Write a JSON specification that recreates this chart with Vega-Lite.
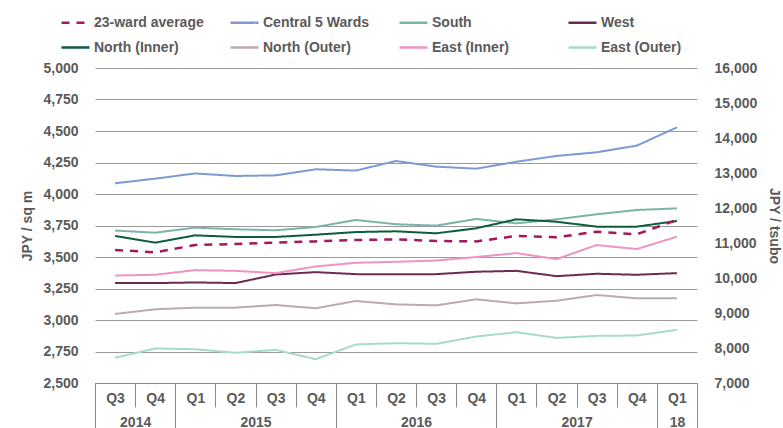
{
  "$schema": "https://vega.github.io/schema/vega-lite/v6.json",
  "width": 602,
  "height": 315,
  "autosize": "none",
  "padding": {"left": 95, "top": 68, "right": 86, "bottom": 45},
  "background": "white",
  "config": {
    "view": {"stroke": null},
    "font": "Liberation Sans",
    "axis": {
      "labelFont": "Liberation Sans",
      "labelFontSize": 14,
      "labelFontWeight": "bold",
      "labelColor": "#5a5a5a",
      "titleFont": "Liberation Sans",
      "titleFontSize": 14,
      "titleFontWeight": "bold",
      "titleColor": "#5a5a5a",
      "labelOverlap": false,
      "labelFlush": false,
      "labelBound": false
    },
    "legend": {
      "labelFont": "Liberation Sans",
      "labelFontSize": 14,
      "labelFontWeight": "bold",
      "labelColor": "#5a5a5a"
    }
  },
  "data": {
    "values": [
      {"period": "2014 Q3", "n": 1, "23-ward average": 3556, "Central 5 Wards": 4085, "South": 3710, "West": 3293, "North (Inner)": 3667, "North (Outer)": 3048, "East (Inner)": 3353, "East (Outer)": 2700},
      {"period": "2014 Q4", "n": 2, "23-ward average": 3537, "Central 5 Wards": 4122, "South": 3693, "West": 3293, "North (Inner)": 3614, "North (Outer)": 3085, "East (Inner)": 3359, "East (Outer)": 2774},
      {"period": "2015 Q1", "n": 3, "23-ward average": 3595, "Central 5 Wards": 4163, "South": 3733, "West": 3298, "North (Inner)": 3672, "North (Outer)": 3098, "East (Inner)": 3396, "East (Outer)": 2768},
      {"period": "2015 Q2", "n": 4, "23-ward average": 3603, "Central 5 Wards": 4143, "South": 3720, "West": 3293, "North (Inner)": 3659, "North (Outer)": 3098, "East (Inner)": 3390, "East (Outer)": 2740},
      {"period": "2015 Q3", "n": 5, "23-ward average": 3614, "Central 5 Wards": 4148, "South": 3712, "West": 3361, "North (Inner)": 3659, "North (Outer)": 3119, "East (Inner)": 3372, "East (Outer)": 2763},
      {"period": "2015 Q4", "n": 6, "23-ward average": 3624, "Central 5 Wards": 4196, "South": 3738, "West": 3380, "North (Inner)": 3677, "North (Outer)": 3093, "East (Inner)": 3425, "East (Outer)": 2689},
      {"period": "2016 Q1", "n": 7, "23-ward average": 3635, "Central 5 Wards": 4186, "South": 3794, "West": 3364, "North (Inner)": 3698, "North (Outer)": 3151, "East (Inner)": 3454, "East (Outer)": 2806},
      {"period": "2016 Q2", "n": 8, "23-ward average": 3640, "Central 5 Wards": 4262, "South": 3760, "West": 3364, "North (Inner)": 3704, "North (Outer)": 3124, "East (Inner)": 3462, "East (Outer)": 2816},
      {"period": "2016 Q3", "n": 9, "23-ward average": 3627, "Central 5 Wards": 4217, "South": 3749, "West": 3364, "North (Inner)": 3688, "North (Outer)": 3116, "East (Inner)": 3472, "East (Outer)": 2811},
      {"period": "2016 Q4", "n": 10, "23-ward average": 3624, "Central 5 Wards": 4201, "South": 3802, "West": 3383, "North (Inner)": 3728, "North (Outer)": 3164, "East (Inner)": 3500, "East (Outer)": 2869},
      {"period": "2017 Q1", "n": 11, "23-ward average": 3667, "Central 5 Wards": 4256, "South": 3767, "West": 3390, "North (Inner)": 3799, "North (Outer)": 3132, "East (Inner)": 3531, "East (Outer)": 2903},
      {"period": "2017 Q2", "n": 12, "23-ward average": 3656, "Central 5 Wards": 4302, "South": 3799, "West": 3348, "North (Inner)": 3780, "North (Outer)": 3153, "East (Inner)": 3483, "East (Outer)": 2858},
      {"period": "2017 Q3", "n": 13, "23-ward average": 3701, "Central 5 Wards": 4331, "South": 3839, "West": 3367, "North (Inner)": 3741, "North (Outer)": 3198, "East (Inner)": 3595, "East (Outer)": 2874},
      {"period": "2017 Q4", "n": 14, "23-ward average": 3680, "Central 5 Wards": 4384, "South": 3873, "West": 3359, "North (Inner)": 3741, "North (Outer)": 3172, "East (Inner)": 3563, "East (Outer)": 2877},
      {"period": "2018 Q1", "n": 15, "23-ward average": 3794, "Central 5 Wards": 4529, "South": 3886, "West": 3372, "North (Inner)": 3786, "North (Outer)": 3172, "East (Inner)": 3661, "East (Outer)": 2922}
    ]
  },
  "transform": [
    {"fold": ["23-ward average", "Central 5 Wards", "South", "West", "North (Inner)", "North (Outer)", "East (Inner)", "East (Outer)"], "as": ["area", "price"]}
  ],
  "encoding": {
    "color": {
      "field": "area",
      "type": "nominal",
      "scale": {
        "domain": ["23-ward average", "Central 5 Wards", "South", "West", "North (Inner)", "North (Outer)", "East (Inner)", "East (Outer)"],
        "range": ["#a3195b", "#7b9ad4", "#79b4a6", "#6b2c50", "#0d5c3c", "#bbaab2", "#ef93c1", "#a5dcc7"]
      },
      "legend": {
        "title": null,
        "orient": "none",
        "legendX": -35,
        "legendY": -61,
        "direction": "horizontal",
        "columns": 4,
        "gridAlign": "all",
        "columnPadding": 21,
        "rowPadding": 2,
        "symbolType": "stroke",
        "symbolSize": 784,
        "symbolStrokeWidth": 2.5,
        "labelOffset": 3
      }
    },
    "strokeDash": {
      "field": "area",
      "type": "nominal",
      "scale": {
        "domain": ["23-ward average", "Central 5 Wards", "South", "West", "North (Inner)", "North (Outer)", "East (Inner)", "East (Outer)"],
        "range": [[8, 7], [1, 0], [1, 0], [1, 0], [1, 0], [1, 0], [1, 0], [1, 0]]
      },
      "legend": null
    }
  },
  "layer": [
    {
      "transform": [{"filter": "datum.area != '23-ward average'"}],
      "mark": {"type": "line", "strokeWidth": 2},
      "encoding": {
        "x": {
          "field": "n",
          "type": "quantitative",
          "scale": {"domain": [0.5, 15.5], "nice": false, "zero": false},
          "axis": {
            "title": null,
            "orient": "bottom",
            "values": [0.5, 1, 1.5, 2, 2.5, 3, 3.5, 4, 4.5, 5, 5.5, 6, 6.5, 7, 7.5, 8, 8.5, 9, 9.5, 10, 10.5, 11, 11.5, 12, 12.5, 13, 13.5, 14, 14.5, 15, 15.5],
            "labelExpr": "datum.value % 1 == 0 ? ['Q3', 'Q4', 'Q1', 'Q2'][(datum.value - 1) % 4] : ''",
            "tickSize": {"condition": {"test": "datum.value % 1 != 0", "value": 24}, "value": 0},
            "tickColor": "#8c8c8c",
            "tickWidth": 1,
            "domain": true,
            "domainColor": "#8c8c8c",
            "grid": false,
            "labelPadding": 8
          }
        },
        "y": {
          "field": "price",
          "type": "quantitative",
          "scale": {"domain": [2500, 5000], "nice": false, "zero": false},
          "axis": {
            "title": "JPY / sq m",
            "values": [2500, 2750, 3000, 3250, 3500, 3750, 4000, 4250, 4500, 4750, 5000],
            "format": ",.0f",
            "ticks": false,
            "domain": false,
            "grid": true,
            "gridColor": "#9a9a9a",
            "gridWidth": 1,
            "labelPadding": 17,
            "titlePadding": 8
          }
        }
      }
    },
    {
      "transform": [{"filter": "datum.area == '23-ward average'"}],
      "mark": {"type": "line", "strokeWidth": 2.5},
      "encoding": {
        "x": {
          "field": "n",
          "type": "quantitative",
          "axis": {
            "title": null,
            "orient": "bottom",
            "values": [0.5, 1.5, 2.5, 4.5, 6.5, 8.5, 10.5, 12.5, 14.5, 15, 15.5],
            "labelExpr": "datum.value == 1.5 ? '2014' : datum.value == 4.5 ? '2015' : datum.value == 8.5 ? '2016' : datum.value == 12.5 ? '2017' : datum.value == 15 ? '18' : ''",
            "tickSize": {"condition": {"test": "indexof([0.5, 2.5, 6.5, 10.5, 14.5, 15.5], datum.value) >= 0", "value": 45}, "value": 0},
            "tickColor": "#8c8c8c",
            "tickWidth": 1,
            "domain": false,
            "grid": false,
            "labelPadding": 32
          }
        },
        "y": {
          "field": "price",
          "type": "quantitative",
          "axis": {
            "title": "JPY / tsubo",
            "orient": "right",
            "values": [2500, 2777.7778, 3055.5556, 3333.3333, 3611.1111, 3888.8889, 4166.6667, 4444.4444, 4722.2222, 5000],
            "labelExpr": "format(7000 + (datum.value - 2500) * 3.6, ',.0f')",
            "ticks": false,
            "domain": false,
            "grid": false,
            "labelPadding": 17,
            "titlePadding": 10
          }
        }
      }
    }
  ],
  "resolve": {"axis": {"x": "independent", "y": "independent"}}
}
